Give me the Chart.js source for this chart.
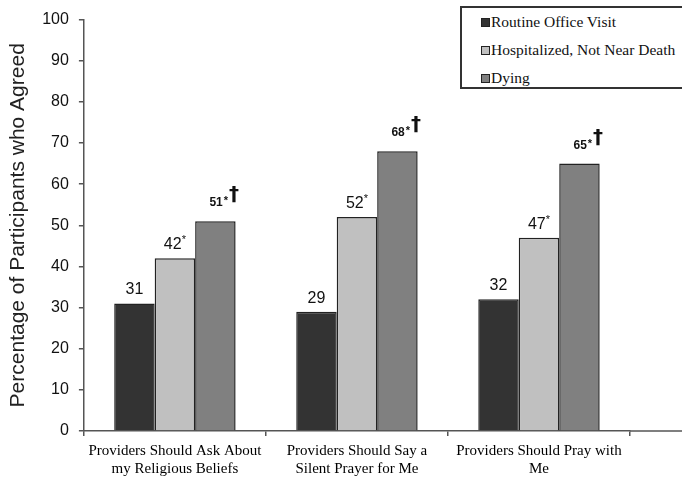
<!DOCTYPE html>
<html>
<head>
<meta charset="utf-8">
<script src="https://cdn.jsdelivr.net/npm/chart.js@4.4.1/dist/chart.umd.min.js"></script>
<style>
  html, body { margin: 0; padding: 0; background: #fff; }
  #wrap { position: relative; width: 682px; height: 484px; overflow: hidden; }
  #legend {
    position: absolute; left: 460px; top: 6px; width: 240px; height: 83px;
    border: 2px solid #333; box-sizing: border-box; background: #fff;
    font-family: "Liberation Serif", "Times New Roman", serif; font-size: 15.5px; color: #111;
  }
  #legend .item { position: absolute; left: 19px; display: flex; align-items: center; white-space: nowrap; }
  #legend .sw { width: 7px; height: 7px; border: 1px solid #222; margin-right: 1px; }
</style>
</head>
<body>
<div id="wrap">
  <canvas id="c" width="682" height="484"></canvas>
  <div id="legend"></div>
</div>
<script>
const categories = [
  ['Providers Should Ask About', 'my Religious Beliefs'],
  ['Providers Should Say a', 'Silent Prayer for Me'],
  ['Providers Should Pray with', 'Me']
];
const seriesNames = ['Routine Office Visit', 'Hospitalized, Not Near Death', 'Dying'];
const routineOffice = [31, 29, 32];
const hospitalized = [42, 52, 47];
const dying = [51, 68, 65];
const routineMarks = ['', '', ''];
const hospitalizedMarks = ['*', '*', '*'];
const dyingMarks = ['*†', '*†', '*†'];
const yTicks = [0, 10, 20, 30, 40, 50, 60, 70, 80, 90, 100];

const colors = ['#333333', '#c0c0c0', '#808080'];
const marks = [routineMarks, hospitalizedMarks, dyingMarks];

// HTML legend
const legendEl = document.getElementById('legend');
seriesNames.forEach((n, i) => {
  const d = document.createElement('div');
  d.className = 'item';
  d.style.top = (5 + i * 28) + 'px';
  d.innerHTML = '<span class="sw" style="background:' + colors[i] + '"></span><span>' + n + '</span>';
  legendEl.appendChild(d);
});

const labelPlugin = {
  id: 'barLabels',
  afterDatasetsDraw(chart) {
    const ctx = chart.ctx;
    ctx.save();
    ctx.fillStyle = '#111';
    ctx.textBaseline = 'alphabetic';
    chart.data.datasets.forEach((ds, di) => {
      const meta = chart.getDatasetMeta(di);
      meta.data.forEach((bar, i) => {
        const v = String(ds.data[i]);
        const m = marks[di][i];
        const x = bar.x, y = bar.y;
        if (di === 0) {
          ctx.font = '16px "Liberation Sans", Arial, sans-serif';
          ctx.textAlign = 'center';
          ctx.fillText(v, x, y - 9);
        } else if (di === 1) {
          ctx.font = '16px "Liberation Sans", Arial, sans-serif';
          const w1 = ctx.measureText(v).width;
          ctx.font = '11px "Liberation Sans", Arial, sans-serif';
          const w2 = ctx.measureText(m).width;
          const start = x - (w1 + w2) / 2;
          ctx.textAlign = 'left';
          ctx.font = '16px "Liberation Sans", Arial, sans-serif';
          ctx.fillText(v, start, y - 9);
          ctx.font = '11px "Liberation Sans", Arial, sans-serif';
          ctx.fillText(m, start + w1, y - 15);
        } else {
          ctx.textAlign = 'left';
          ctx.font = 'bold 12px "Liberation Sans", Arial, sans-serif';
          const w1 = ctx.measureText(v).width;
          const star = m.charAt(0), dag = m.slice(1);
          ctx.font = 'bold 11px "Liberation Sans", Arial, sans-serif';
          const w2 = ctx.measureText(star).width;
          const start = x - 6;
          ctx.font = 'bold 12px "Liberation Sans", Arial, sans-serif';
          ctx.fillText(v, start, y - 15);
          ctx.font = 'bold 11px "Liberation Sans", Arial, sans-serif';
          ctx.fillText(star, start + w1 + 1, y - 17);
          ctx.font = 'bold 20px "DejaVu Sans", sans-serif';
          ctx.fillText(dag, start + w1 + w2 + 2, y - 21);
        }
      });
    });
    ctx.restore();
  }
};

const axisExtend = {
  id: 'axisExtend',
  afterDraw(chart) {
    const ctx = chart.ctx;
    const a = chart.chartArea;
    ctx.save();
    ctx.strokeStyle = '#555';
    ctx.lineWidth = 1.5;
    ctx.beginPath();
    ctx.moveTo(a.right, a.bottom);
    ctx.lineTo(chart.width, a.bottom);
    ctx.stroke();
    ctx.restore();
  }
};

new Chart(document.getElementById('c'), {
  type: 'bar',
  data: {
    labels: categories,
    datasets: [
      { label: seriesNames[0], data: routineOffice, backgroundColor: colors[0] },
      { label: seriesNames[1], data: hospitalized, backgroundColor: colors[1] },
      { label: seriesNames[2], data: dying, backgroundColor: colors[2] }
    ].map(d => Object.assign(d, { borderColor: '#222', borderWidth: 1.5, barPercentage: 1, categoryPercentage: 0.667 }))
  },
  options: {
    responsive: false,
    animation: false,
    layout: { padding: { top: 9, right: 52, left: 6, bottom: 0 } },
    plugins: { legend: { display: false }, tooltip: { enabled: false } },
    scales: {
      x: {
        grid: { drawOnChartArea: false, tickLength: 5, color: '#555', lineWidth: 1.5 },
        border: { color: '#555', width: 1.5 },
        ticks: {
          color: '#000', padding: 6,
          font: { family: '"Liberation Serif", "Times New Roman", serif', size: 15 },
          maxRotation: 0, autoSkip: false
        }
      },
      y: {
        min: 0, max: 100,
        afterBuildTicks(scale) { scale.ticks = yTicks.map(v => ({ value: v })); },
        grid: { drawOnChartArea: false, tickLength: 5, color: '#555', lineWidth: 1.5 },
        border: { color: '#555', width: 1.5 },
        ticks: {
          color: '#111', padding: 10,
          font: { family: '"Liberation Sans", Arial, sans-serif', size: 16 }
        },
        title: {
          display: true, text: 'Percentage of Participants who Agreed', color: '#222',
          font: { family: '"Liberation Sans", Arial, sans-serif', size: 21 },
          padding: { top: 0, bottom: 1 }
        }
      }
    }
  },
  plugins: [labelPlugin, axisExtend]
});
</script>
</body>
</html>
